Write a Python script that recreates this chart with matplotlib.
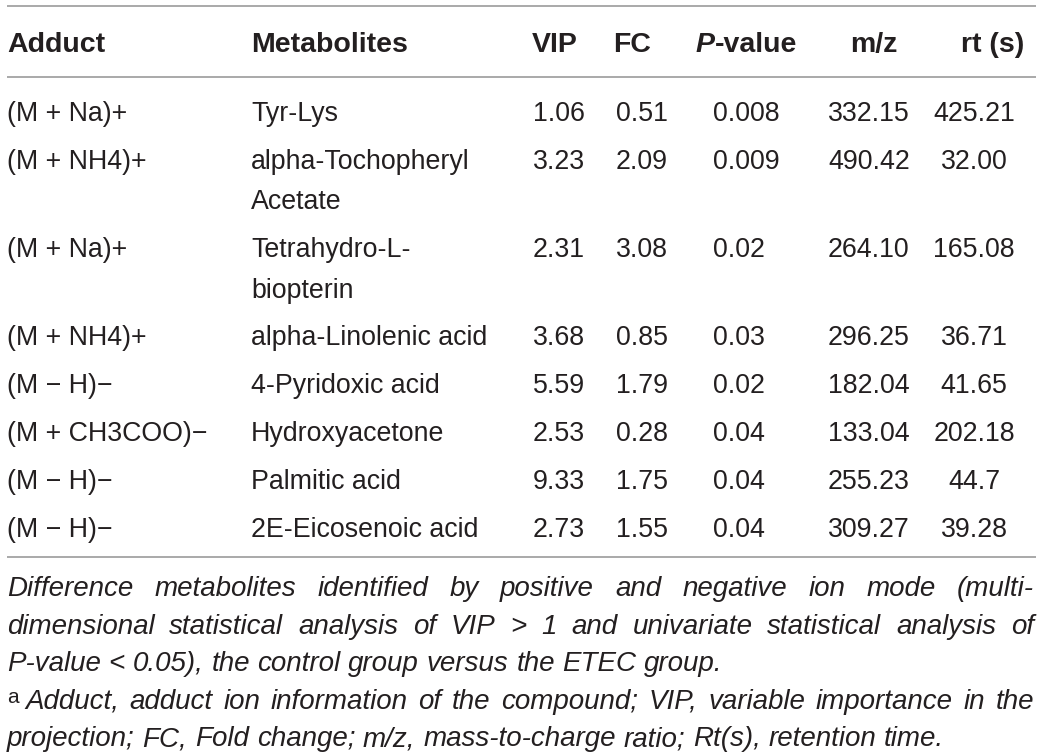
import matplotlib
matplotlib.use("Agg")
import matplotlib.pyplot as plt

# table contents
adducts = ["(M + Na)+", "(M + NH4)+", "(M + Na)+", "(M + NH4)+",
           "(M \u2212 H)\u2212", "(M + CH3COO)\u2212", "(M \u2212 H)\u2212", "(M \u2212 H)\u2212"]
metabolites = ["Tyr-Lys", "alpha-Tochopheryl\nAcetate", "Tetrahydro-L-\nbiopterin",
               "alpha-Linolenic acid", "4-Pyridoxic acid", "Hydroxyacetone",
               "Palmitic acid", "2E-Eicosenoic acid"]
vip = ["1.06", "3.23", "2.31", "3.68", "5.59", "2.53", "9.33", "2.73"]
fc = ["0.51", "2.09", "3.08", "0.85", "1.79", "0.28", "1.75", "1.55"]
pval = ["0.008", "0.009", "0.02", "0.03", "0.02", "0.04", "0.04", "0.04"]
mz = ["332.15", "490.42", "264.10", "296.25", "182.04", "133.04", "255.23", "309.27"]
rt = ["425.21", "32.00", "165.08", "36.71", "41.65", "202.18", "44.7", "39.28"]

caption = [
    ("Difference metabolites identified by positive and negative ion mode (multi-", True),
    ("dimensional statistical analysis of VIP > 1 and univariate statistical analysis of", True),
    ("P-value < 0.05), the control group versus the ETEC group.", False),
    ("Adduct, adduct ion information of the compound; VIP, variable importance in the", True),
    ("projection; FC, Fold change; m/z, mass-to-charge ratio; Rt(s), retention time.", False),
]

W, H = 1044, 756
fig = plt.figure(figsize=(W / 100, H / 100), dpi=100)
ax = fig.add_axes([0, 0, 1, 1])
ax.set_xlim(0, W)
ax.set_ylim(H, 0)
ax.axis("off")

ink = "#231f20"
rule = "#a3a3a3"
fam = "Liberation Sans"

x0, x1 = 7, 1036
for yl in (6, 77, 557):
    ax.plot([x0, x1], [yl, yl], color=rule, lw=1.3, solid_capstyle="butt")

# header
hb = 52
hk = dict(fontsize=20.5, family=fam, weight="bold", color=ink, va="baseline")
ax.text(7, hb, "Adduct", ha="left", **hk)
ax.text(251, hb, "Metabolites", ha="left", **hk)
ax.text(555, hb, "VIP", ha="center", **hk)
ax.text(613, hb, "FC", ha="left", **hk)
tp = ax.text(696, hb, "P", ha="left", style="italic", **hk)
ax.text(874, hb, "m/z", ha="center", **hk)
ax.text(1024, hb, "rt (s)", ha="right", **hk)

fig.canvas.draw()
r = fig.canvas.get_renderer()
inv = ax.transData.inverted()


def width(t):
    bb = t.get_window_extent(renderer=r)
    a = inv.transform((bb.x0, bb.y0))
    b = inv.transform((bb.x1, bb.y1))
    return b[0] - a[0]


ax.text(696 + width(tp), hb, "-value", ha="left", **hk)

# body rows
bk = dict(fontsize=19.3, family=fam, color=ink, va="baseline")
y = 112
row_gap, line_gap = 47.8, 40.5
for i in range(len(adducts)):
    base = y + 9
    ax.text(7, base, adducts[i], ha="left", **bk)
    lines = metabolites[i].split("\n")
    for k, ln in enumerate(lines):
        ax.text(251, base + k * line_gap, ln, ha="left", **bk)
    ax.text(585, base, vip[i], ha="right", **bk)
    ax.text(668, base, fc[i], ha="right", **bk)
    ax.text(713, base, pval[i], ha="left", **bk)
    ax.text(828, base, mz[i], ha="left", **bk)
    ax.text(974, base, rt[i], ha="center", **bk)
    y += row_gap + (len(lines) - 1) * line_gap

# footnote, justified
ck = dict(fontsize=20, family=fam, style="italic", color=ink, va="baseline")
cb = 596
for j, (line, justify) in enumerate(caption):
    base = cb + j * 37.6
    start = 7
    if j == 3:
        ax.text(7, base - 6, "a", ha="left", fontsize=15, family=fam, color=ink, va="baseline")
        start = 25
    words = line.split(" ")
    texts = [ax.text(start, base, w_, ha="left", **ck) for w_ in words]
    ws = [width(t) for t in texts]
    if justify and len(words) > 1:
        gap = (1034 - start - sum(ws)) / (len(words) - 1)
    else:
        sp = ax.text(0, 0, "a a", **ck)
        sp2 = ax.text(0, 0, "aa", **ck)
        gap = width(sp) - width(sp2)
        sp.remove()
        sp2.remove()
    xx = start
    for t, w_ in zip(texts, ws):
        t.set_x(xx)
        xx += w_ + gap

fig.savefig("out.png", dpi=100, facecolor="white")
